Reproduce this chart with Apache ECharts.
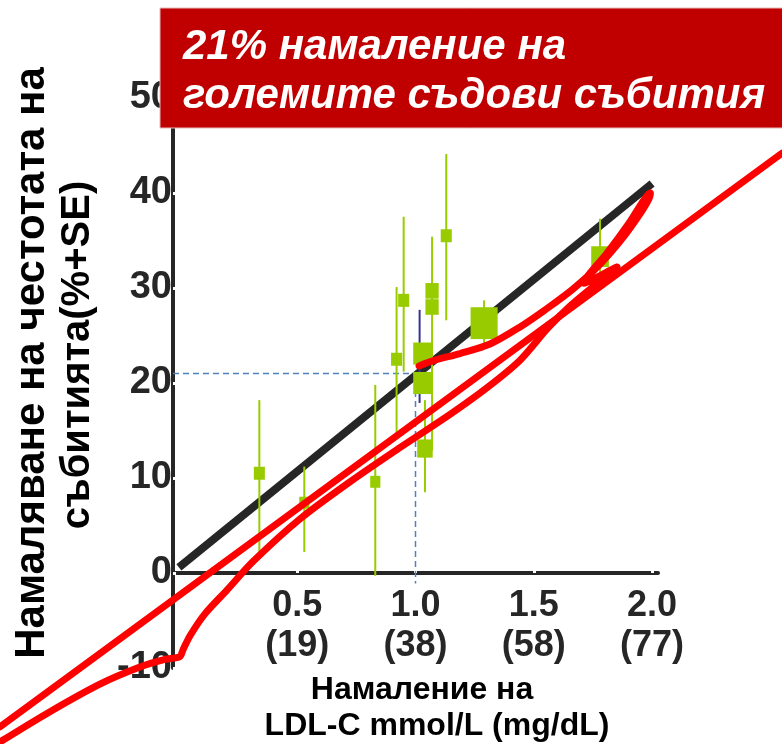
<!DOCTYPE html>
<html>
<head>
<meta charset="utf-8">
<script src="https://cdn.jsdelivr.net/npm/echarts@6/dist/echarts.min.js"></script>
<style>
  html, body { margin: 0; padding: 0; background: #ffffff; }
  #chart { width: 782px; height: 744px; }
</style>
</head>
<body>
<div id="chart"></div>
<script>
// Trials: LDL-C reduction (mmol/L) vs. reduction in event rate (%)
const ldlReduction   = [0.34, 0.53, 0.83, 0.92, 0.95, 1.03, 1.03, 1.04, 1.07, 1.07, 1.13, 1.29, 1.78];
const eventReduction = [10.5, 7.4, 9.6, 22.5, 28.7, 23.1, 20.0, 13.1, 29.7, 28.0, 35.5, 26.3, 33.3];
const seUpper        = [18.2, 11.2, 19.8, 30.1, 37.5, 27.7, null, 18.2, 35.4, null, 44.1, 28.7, 37.3];
const seLower        = [2.2, 2.2, -0.3, 14.7, 21.2, 17.9, null, 8.5, 12.9, null, 26.6, 23.6, 30.5];
const trialWeight    = [1, 0.92, 0.92, 1, 1, 1.7, 1.7, 1.4, 1.2, 1.2, 1, 2.45, 1.6];

// Axis ticks
const xTickValues = [0.5, 1.0, 1.5, 2.0];
const xTickMgdl   = ['19', '38', '58', '77'];
const yMin = -10, yMax = 50, yStep = 10;

// Regression line and the 21% reference at 1 mmol/L
const fitLine = [[0, 0.6], [2.0, 41.0]];
const refX = 1.0;
const refY = 21;

// Hand-drawn red pen strokes over the plot
const penStrokeStraight = [[-0.757, -16.2], [2.55, 44.2]];
const penStrokeLoop = [
  [1.015, 21.8], [1.082, 22.4], [1.188, 23.1], [1.315, 24.1], [1.442, 25.9],
  [1.548, 27.7], [1.666, 29.9], [1.780, 32.5], [1.877, 35.3], [1.949, 37.8],
  [1.987, 39.4], [1.992, 40.0], [1.966, 39.3], [1.899, 36.7], [1.810, 33.7],
  [1.729, 31.3], [1.712, 30.5], [1.772, 31.2], [1.852, 32.2], [1.763, 30.4],
  [1.653, 28.1], [1.560, 25.8], [1.442, 22.4], [1.302, 19.5], [1.146, 16.7],
  [0.934, 13.2], [0.723, 9.6], [0.512, 5.7], [0.313, 1.2], [0.203, -1.8],
  [0.110, -4.3], [0.047, -6.6], [0.017, -8.1], [0.004, -8.8], [-0.059, -9.1],
  [-0.165, -9.9], [-0.334, -11.7], [-0.545, -14.6], [-0.757, -17.8]
];
const penStrokes = [penStrokeStraight, penStrokeLoop];

const titleLines = ['21% намаление на', 'големите съдови събития'];
const yTitleLines = ['Намаляване на честотата на', 'събитията(%+SE)'];
const xTitleLines = ['Намаление на', 'LDL-C mmol/L (mg/dL)'];

const FONT = '"Liberation Sans", Arial, sans-serif';
const GREEN = '#99cc00';
const DARK = '#262626';
const xMin = -0.025, xMax = 2.025;
const blueBarTrial = 5; // this trial's SE bar is drawn in blue

const points = ldlReduction.map((x, i) => [x, eventReduction[i]]);
const bars = ldlReduction
  .map((x, i) => [x, seLower[i], seUpper[i], i])
  .filter(d => d[1] !== null && d[2] !== null);

const chart = echarts.init(document.getElementById('chart'), null, { renderer: 'canvas' });

chart.setOption({
  animation: false,
  backgroundColor: '#ffffff',
  grid: { left: 173, right: 124, top: 98, bottom: 76, containLabel: false, outerBoundsMode: 'none' },
  xAxis: {
    type: 'value',
    min: xMin,
    max: xMax,
    // the x axis sits on y = 0, which is 95px above the grid's bottom edge
    offset: -95,
    splitLine: { show: false },
    axisLine: { onZero: false, lineStyle: { color: DARK, width: 4 } },
    axisTick: { show: true, inside: true, length: 3, customValues: xTickValues,
                lineStyle: { color: '#ffffff', width: 3 } },
    axisLabel: {
      customValues: xTickValues,
      margin: 13,
      fontFamily: FONT, fontWeight: 'bold', fontSize: 36, lineHeight: 40,
      color: DARK,
      formatter: v => {
        const i = xTickValues.findIndex(t => Math.abs(t - v) < 1e-6);
        return v.toFixed(1) + '\n(' + xTickMgdl[i] + ')';
      }
    }
  },
  yAxis: {
    type: 'value',
    min: yMin,
    max: yMax,
    interval: yStep,
    splitLine: { show: false },
    axisLine: { show: true, onZero: false, lineStyle: { color: DARK, width: 4 } },
    axisTick: { show: true, inside: true, length: 3, lineStyle: { color: '#ffffff', width: 3 } },
    axisLabel: {
      margin: 1,
      fontFamily: FONT, fontWeight: 'bold', fontSize: 38,
      color: DARK,
      padding: [0, 0, 12, 0]
    }
  },
  series: [
    {
      type: 'line',
      data: fitLine,
      symbol: 'none',
      z: 2,
      lineStyle: { color: DARK, width: 8, cap: 'butt' }
    },
    {
      type: 'line',
      data: [[xMin, refY], [refX, refY], [refX, -1.1]],
      symbol: 'none',
      z: 3,
      clip: false,
      lineStyle: { color: '#4f81bd', width: 1.5, type: [6, 4] }
    },
    {
      type: 'custom',
      data: bars,
      z: 4,
      renderItem: (params, api) => {
        const x = api.value(0);
        const top = api.coord([x, api.value(2)]);
        const bot = api.coord([x, api.value(1)]);
        const isBlue = api.value(3) === blueBarTrial;
        const dx = isBlue ? -3 : 0;
        return {
          type: 'line',
          shape: { x1: top[0] + dx, y1: top[1], x2: bot[0] + dx, y2: bot[1] },
          style: { stroke: isBlue ? '#333399' : GREEN, lineWidth: 2 }
        };
      }
    },
    {
      type: 'scatter',
      data: points,
      symbol: 'rect',
      z: 5,
      symbolSize: (val, params) => {
        const h = 13 * trialWeight[params.dataIndex];
        return [h * 0.85, h];
      },
      itemStyle: { color: GREEN, opacity: 1 }
    },
    {
      // red pen strokes, free to run past the plot area
      type: 'custom',
      data: penStrokes.map((s, i) => [i]),
      z: 10,
      clip: false,
      silent: true,
      renderItem: (params, api) => {
        const stroke = penStrokes[params.dataIndex];
        return {
          type: 'polyline',
          shape: { points: stroke.map(p => api.coord(p)), smooth: stroke.length > 2 ? 0.3 : 0 },
          style: { stroke: '#ff0000', lineWidth: 7, lineCap: 'round', lineJoin: 'round', fill: null }
        };
      }
    }
  ],
  graphic: [
    {
      type: 'rect', z: 100,
      shape: { x: 160, y: 8, width: 640, height: 120 },
      style: { fill: '#c00000', stroke: '#e6b8b8', lineWidth: 1 }
    },
    {
      type: 'text', z: 101, x: 183, y: 47,
      style: { text: titleLines[0], fill: '#ffffff', font: 'italic bold 42px ' + FONT,
               align: 'left', verticalAlign: 'middle' }
    },
    {
      type: 'text', z: 101, x: 183, y: 96,
      style: { text: titleLines[1], fill: '#ffffff', font: 'italic bold 42px ' + FONT,
               align: 'left', verticalAlign: 'middle' }
    },
    {
      type: 'text', z: 50, x: 32, y: 363, rotation: Math.PI / 2,
      style: { text: yTitleLines[0], fill: '#000000', font: 'bold 42px ' + FONT,
               align: 'center', verticalAlign: 'middle' }
    },
    {
      type: 'text', z: 50, x: 78, y: 355, rotation: Math.PI / 2,
      style: { text: yTitleLines[1], fill: '#000000', font: 'bold 40px ' + FONT,
               align: 'center', verticalAlign: 'middle' }
    },
    {
      type: 'text', z: 50, x: 422, y: 690,
      style: { text: xTitleLines[0], fill: '#000000', font: 'bold 32px ' + FONT,
               align: 'center', verticalAlign: 'middle' }
    },
    {
      type: 'text', z: 50, x: 437, y: 726,
      style: { text: xTitleLines[1], fill: '#000000', font: 'bold 32px ' + FONT,
               align: 'center', verticalAlign: 'middle' }
    }
  ]
});
</script>
</body>
</html>
